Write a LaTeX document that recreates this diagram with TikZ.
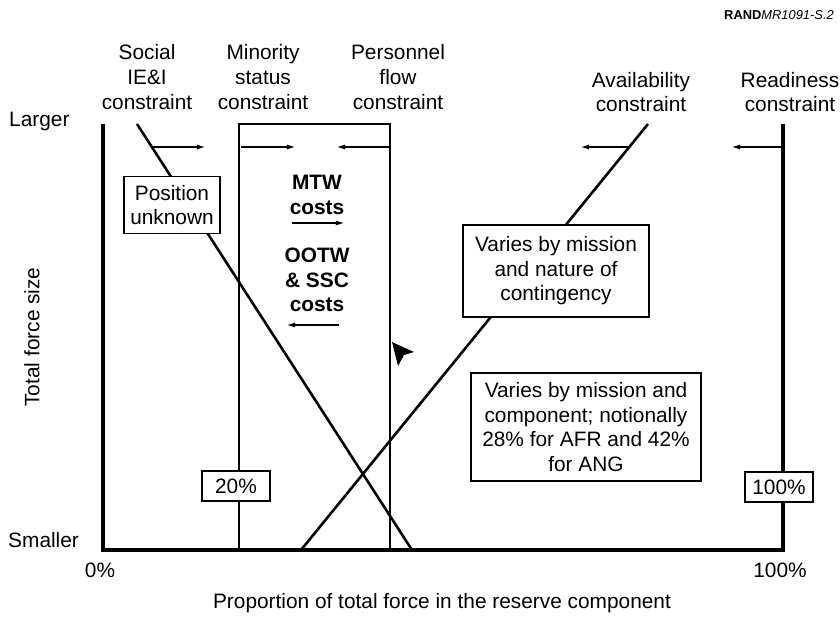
\documentclass[tikz,border=0pt]{standalone}
\usepackage{fontspec}
\setmainfont{Liberation Sans}
\usetikzlibrary{arrows.meta}

\begin{document}
\begin{tikzpicture}[x=0.03cm,y=-0.03cm,
    lbl/.style={font=\fontsize{17.8}{21}\selectfont,align=center,inner sep=0pt},
    costlbl/.style={lbl,font=\fontsize{17.8}{21}\selectfont\bfseries},
    notebox/.style={lbl,draw,fill=white,line width=1.1pt},
    axis/.style={line width=3.2pt},
    cline/.style={line width=2.2pt},
    push/.style={line width=0.9pt,-{Latex[length=7pt,width=4.5pt]}}]
    \useasboundingbox (0,0) rectangle (840,617);
    % frame: 0% at x=103, 100% at x=783; smaller at y=550, larger at y=124
    \coordinate (o) at (103,550);
    \coordinate (ytop) at (103,124);
    \coordinate (xend) at (783,550);
    \coordinate (rdy-top) at (783,124);
    \draw[axis] (ytop) -- (o) -- (xend) -- (rdy-top);
    % constraint lines
    \coordinate (soc-top) at (137,124);
    \coordinate (soc-bot) at (412,550);
    \coordinate (av-top) at (648,124);
    \coordinate (av-bot) at (301,550);
    \coordinate (min-bot) at (239,550);
    \coordinate (min-top) at (239,124);
    \coordinate (per-top) at (390,124);
    \coordinate (per-bot) at (390,550);
    \draw[cline] (soc-top) -- (soc-bot);
    \draw[cline] (av-top) -- (av-bot);
    \draw[cline] (min-bot) -- (min-top) -- (per-top) -- (per-bot);
    % direction in which each constraint pushes
    \foreach \n/\a/\b in {soc/152/205, min/241/295, per/389/337, av/630/581, rdy/782/732} {
      \coordinate (\n-a) at (\a,147);
      \coordinate (\n-b) at (\b,147);
      \draw[push] (\n-a) -- (\n-b);
    }
    % labels above the plot
    \node[lbl] (soc) at (147,77) {Social\\IE\&I\\constraint};
    \node[lbl] (min) at (263,77) {Minority\\status\\constraint};
    \node[lbl] (per) at (398,77) {Personnel\\flow\\constraint};
    \node[lbl] (av) at (641,92) {Availability\\constraint};
    \node[lbl] (rdy) at (790,92) {Readiness\\constraint};
    \node[font=\fontsize{11}{13}\selectfont,anchor=east,inner sep=0pt] (tag) at (834,15) {\textbf{RAND}\textit{MR1091-S.2}};
    % axes labels
    \node[lbl,anchor=west] (larger) at (9,121) {Larger};
    \node[lbl,anchor=west] (smaller) at (8,540) {Smaller};
    \node[lbl,rotate=90] (ylab) at (32,337) {Total force size};
    \node[lbl] (p0) at (100,570) {0\%};
    \node[lbl] (p100) at (780,570) {100\%};
    \node[lbl] (xlab) at (442,603) {Proportion of total force in the reserve component};
    % costs inside the box
    \node[costlbl] (mtw) at (317,195) {MTW\\costs};
    \coordinate (mtw-a) at (292,223);
    \coordinate (mtw-b) at (344,223);
    \draw[push] (mtw-a) -- (mtw-b);
    \node[costlbl] (ootw) at (317,280) {OOTW\\\& SSC\\costs};
    \coordinate (ootw-a) at (339,325);
    \coordinate (ootw-b) at (287,325);
    \draw[push] (ootw-a) -- (ootw-b);
    % arrowhead
    \coordinate (tip) at (392,342);
    \fill (tip) -- (414,352) -- (404,355) -- (398,366) -- cycle;
    % notes
    \node[notebox,minimum width=2.88cm,minimum height=1.71cm] (posbox) at (172,205) {Position\\unknown};
    \node[notebox,minimum width=5.58cm,minimum height=2.76cm] (contbox) at (556,271) {Varies by mission\\and nature of\\contingency};
    \node[notebox,minimum width=6.9cm,minimum height=3.24cm] (compbox) at (586,427) {Varies by mission and\\component; notionally\\28\% for AFR and 42\%\\for ANG};
    \node[notebox,minimum width=2.04cm,minimum height=0.9cm] (b20) at (236,486) {20\%};
    \node[notebox,minimum width=2.04cm,minimum height=0.9cm] (b100) at (779,487) {100\%};
  \end{tikzpicture}
\end{document}
